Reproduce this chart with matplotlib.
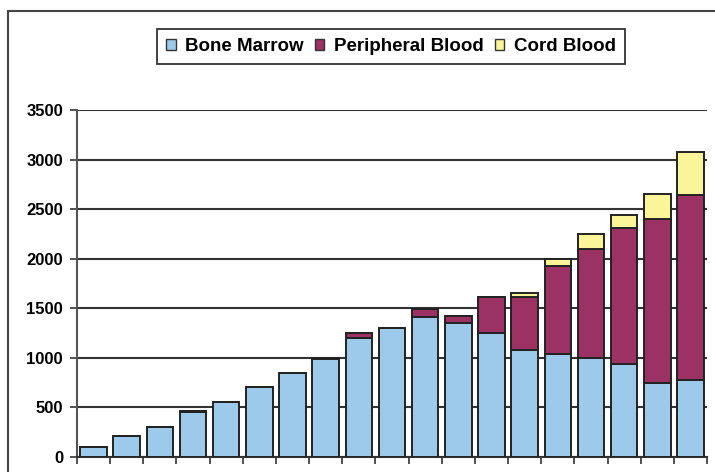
import matplotlib
matplotlib.use("Agg")
import matplotlib.pyplot as plt
import numpy as np
from matplotlib.patches import Patch, Rectangle

plt.rcParams['font.family'] = ['Liberation Sans', 'DejaVu Sans']

# transplants per year, stacked by stem cell source
bone_marrow = [100, 215, 305, 455, 555, 705, 850, 985, 1200, 1305,
               1410, 1350, 1250, 1080, 1040, 1000, 940, 750, 775]
peripheral_blood = [0, 0, 0, 5, 0, 0, 0, 15, 55, 0,
                    80, 70, 365, 535, 890, 1100, 1370, 1650, 1865]
cord_blood = [0, 0, 0, 0, 0, 0, 0, 0, 0, 0,
              0, 0, 0, 35, 70, 145, 135, 250, 440]
series_names = ["Bone Marrow", "Peripheral Blood", "Cord Blood"]
series_colors = ["#9dc9ea", "#9c3163", "#fbf59a"]
y_ticks = [0, 500, 1000, 1500, 2000, 2500, 3000, 3500]

W, H = 715, 472
fig = plt.figure(figsize=(W / 100, H / 100), dpi=100)
ax = fig.add_axes([77 / W, 1 - 457 / H, (707 - 77) / W, (457 - 110) / H])

x = np.arange(len(bone_marrow))
bm = np.array(bone_marrow)
pb = np.array(peripheral_blood)
cb = np.array(cord_blood)
ax.bar(x, bm, width=0.8, color=series_colors[0], edgecolor="#222222", linewidth=1.4, zorder=3)
ax.bar(x, pb, bottom=bm, width=0.8, color=series_colors[1], edgecolor="#222222", linewidth=1.4, zorder=3)
ax.bar(x, cb, bottom=bm + pb, width=0.8, color=series_colors[2], edgecolor="#222222", linewidth=1.4, zorder=3)

ax.set_xlim(-0.5, len(x) - 0.5)
ax.set_ylim(0, 3500)
ax.set_yticks(y_ticks)
ax.set_yticklabels([str(v) for v in y_ticks], fontsize=12, fontweight="bold")
ax.set_xticks(np.arange(len(x) + 1) - 0.5)
ax.set_xticklabels([])
ax.tick_params(axis="both", direction="out", length=5, width=1.2, color="#333333", pad=5)
ax.yaxis.grid(True, color="#333333", linewidth=1.5, zorder=0)
ax.set_axisbelow(True)
for s in ["top", "right"]:
    ax.spines[s].set_visible(False)
ax.spines["left"].set_color("#555555")
ax.spines["left"].set_linewidth(1.5)
ax.spines["bottom"].set_color("#333333")
ax.spines["bottom"].set_linewidth(1.5)

# outer chart border
fig.patches.append(Rectangle((8 / W, -0.2), 1.2, 1 - 11 / H + 0.2, transform=fig.transFigure,
                             fill=False, edgecolor="#444444", linewidth=1.5, clip_on=False))

handles = [Patch(facecolor=c, edgecolor="#333333", linewidth=1) for c in series_colors]
leg = fig.legend(handles, series_names, loc="center", bbox_to_anchor=(391 / W, 1 - 46.5 / H),
                 ncol=3, fancybox=False, frameon=True, handlelength=0.5, handleheight=0.5,
                 handletextpad=0.5, columnspacing=0.6, borderpad=0.5,
                 prop={"weight": "bold", "size": 13.5})
leg.get_frame().set_edgecolor("black")
leg.get_frame().set_linewidth(1.3)

fig.savefig("out.png", dpi=100)
